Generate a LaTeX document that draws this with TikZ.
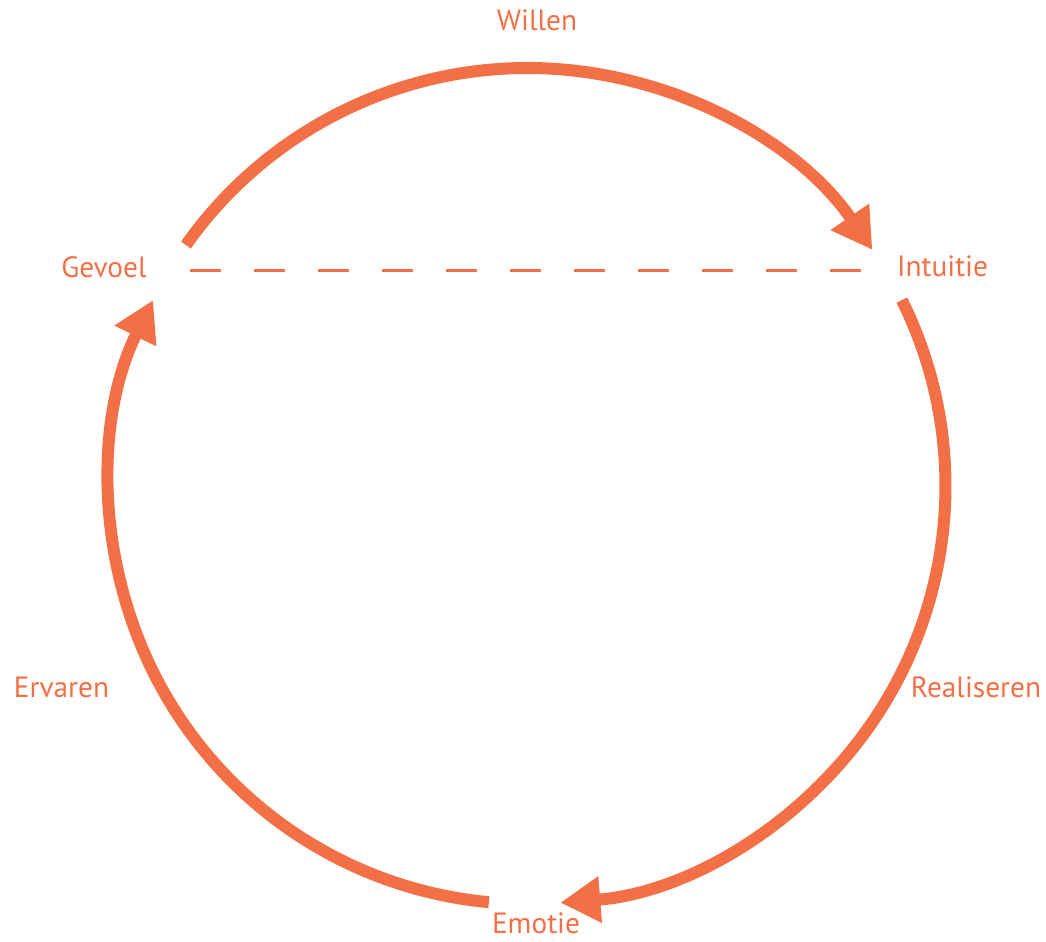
\documentclass[tikz,border=0pt]{standalone}
\usepackage{fontspec}
\setmainfont{PT Sans}
\usetikzlibrary{arrows.meta}
\definecolor{oranje}{RGB}{243,112,71}

\begin{document}
\begin{tikzpicture}[x=0.75pt,y=0.75pt,>={Triangle[length=30pt,width=33pt]},
    label node/.style={text=oranje,font=\fontsize{22}{26}\selectfont,inner sep=0pt},
    cycle arc/.style={draw=oranje,line width=9pt},
    cycle dash/.style={draw=oranje,line width=2.25pt,dash pattern=on 23.25pt off 24.75pt}]
    \useasboundingbox (0,0) rectangle (1046,942);
    \coordinate (c) at (527.5,456);

    \node[label node] (willen) at (537,922) {Willen};
    \node[label node] (gevoel) at (104,675) {Gevoel};
    \node[label node] (intuitie) at (942.5,676) {Intuitie};
    \node[label node] (realiseren) at (976,255) {Realiseren};
    \node[label node] (emotie) at (536,19) {Emotie};
    \node[label node] (ervaren) at (61.5,255) {Ervaren};

    \coordinate (dash start) at (190,671);
    \coordinate (dash end) at (865,671);

    % the three arcs of the cycle
    \draw[cycle arc,->] ([shift={(144.8:418)}]c) arc[start angle=144.8,end angle=34.4,radius=313.5pt];
    \draw[cycle arc,->] ([shift={(26.4:418)}]c) arc[start angle=26.4,end angle=-85.5,radius=313.5pt];
    \draw[cycle arc,->] ([shift={(-95.3:418)}]c) arc[start angle=-95.3,end angle=-206.4,radius=313.5pt];

    \path[cycle dash] (dash start) -- (dash end);
\end{tikzpicture}
\end{document}
